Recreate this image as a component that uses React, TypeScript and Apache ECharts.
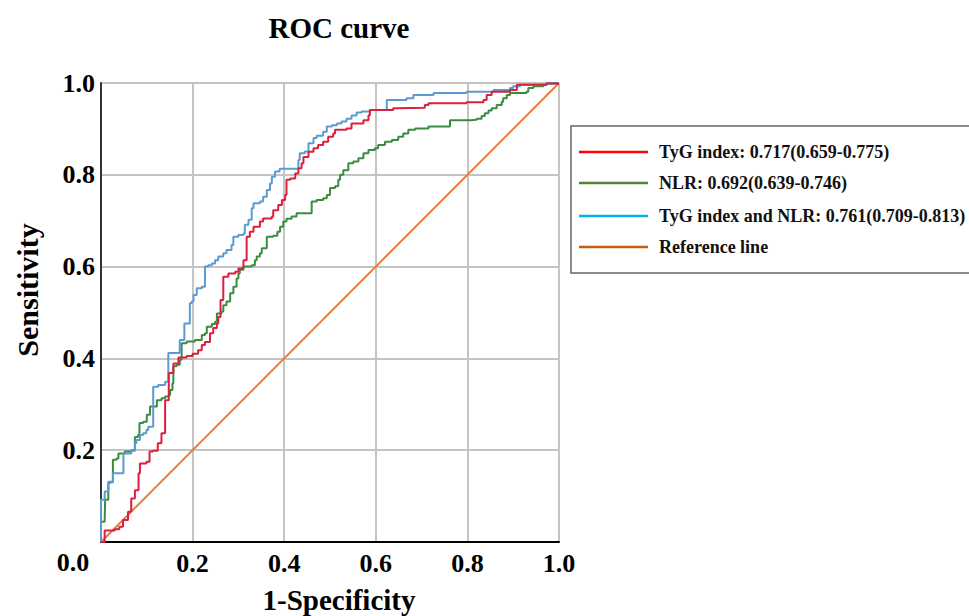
import React, { useEffect, useRef } from "react";
import * as echarts from "echarts";

const xTicks = [0, 0.2, 0.4, 0.6, 0.8, 1.0];

const legendLabels = [
  "TyG index: 0.717(0.659-0.775)",
  "NLR: 0.692(0.639-0.746)",
  "TyG index and NLR: 0.761(0.709-0.813)",
  "Reference line",
];

const tygPoints: number[][] = [
  [0, 0], [0.008, 0.025], [0.03, 0.028], [0.04, 0.033], [0.048, 0.048], [0.059, 0.066],
  [0.066, 0.095], [0.074, 0.113], [0.082, 0.15], [0.085, 0.171], [0.099, 0.175],
  [0.106, 0.197], [0.113, 0.199], [0.124, 0.215], [0.132, 0.237], [0.14, 0.259],
  [0.14, 0.309], [0.148, 0.368], [0.158, 0.389], [0.169, 0.402], [0.187, 0.405],
  [0.2, 0.41], [0.212, 0.418], [0.22, 0.429], [0.227, 0.436], [0.238, 0.455],
  [0.245, 0.466], [0.253, 0.476], [0.256, 0.49], [0.261, 0.505], [0.261, 0.527],
  [0.267, 0.578], [0.278, 0.585], [0.293, 0.589], [0.3, 0.596], [0.311, 0.614],
  [0.318, 0.665], [0.325, 0.676], [0.333, 0.687], [0.347, 0.698], [0.354, 0.705],
  [0.373, 0.709], [0.376, 0.723], [0.387, 0.734], [0.395, 0.745], [0.402, 0.756],
  [0.405, 0.789], [0.413, 0.792], [0.424, 0.803], [0.431, 0.814], [0.438, 0.825],
  [0.442, 0.839], [0.453, 0.85], [0.464, 0.858], [0.474, 0.865], [0.485, 0.872],
  [0.496, 0.883], [0.507, 0.89], [0.511, 0.898], [0.536, 0.901], [0.547, 0.912],
  [0.573, 0.919], [0.584, 0.93], [0.587, 0.941], [0.638, 0.945], [0.646, 0.946],
  [0.707, 0.952], [0.715, 0.956], [0.798, 0.958], [0.835, 0.963], [0.842, 0.974],
  [0.853, 0.981], [0.893, 0.985], [0.908, 0.996], [0.973, 0.999], [1, 1],
];

const nlrPoints: number[][] = [
  [0, 0], [0, 0.044], [0.008, 0.044], [0.009, 0.092], [0.016, 0.092], [0.016, 0.128],
  [0.019, 0.13], [0.026, 0.179], [0.034, 0.182], [0.038, 0.193], [0.052, 0.197],
  [0.067, 0.2], [0.074, 0.208], [0.074, 0.229], [0.081, 0.233], [0.084, 0.259],
  [0.092, 0.262], [0.1, 0.277], [0.107, 0.295], [0.118, 0.295], [0.122, 0.309],
  [0.132, 0.313], [0.14, 0.317], [0.148, 0.32], [0.151, 0.331], [0.156, 0.346],
  [0.158, 0.383], [0.165, 0.386], [0.172, 0.397], [0.176, 0.433], [0.187, 0.437],
  [0.205, 0.44], [0.22, 0.451], [0.227, 0.455], [0.231, 0.469], [0.242, 0.475],
  [0.249, 0.48], [0.253, 0.498], [0.263, 0.502], [0.267, 0.516], [0.274, 0.524],
  [0.282, 0.542], [0.289, 0.556], [0.296, 0.574], [0.3, 0.585], [0.303, 0.593],
  [0.311, 0.6], [0.329, 0.603], [0.336, 0.614], [0.34, 0.622], [0.347, 0.629],
  [0.351, 0.64], [0.362, 0.665], [0.376, 0.667], [0.385, 0.676], [0.391, 0.687],
  [0.398, 0.698], [0.405, 0.704], [0.416, 0.709], [0.427, 0.716], [0.46, 0.72],
  [0.46, 0.742], [0.471, 0.745], [0.485, 0.749], [0.493, 0.756], [0.5, 0.771],
  [0.511, 0.775], [0.518, 0.789], [0.522, 0.8], [0.529, 0.81], [0.54, 0.825],
  [0.551, 0.829], [0.562, 0.836], [0.573, 0.847], [0.584, 0.854], [0.598, 0.858],
  [0.605, 0.865], [0.62, 0.872], [0.635, 0.876], [0.649, 0.883], [0.66, 0.89],
  [0.671, 0.898], [0.686, 0.901], [0.715, 0.905], [0.762, 0.905], [0.762, 0.919],
  [0.806, 0.92], [0.82, 0.922], [0.831, 0.928], [0.838, 0.934], [0.846, 0.94],
  [0.853, 0.945], [0.864, 0.952], [0.875, 0.959], [0.878, 0.967], [0.886, 0.974],
  [0.893, 0.978], [0.929, 0.981], [0.933, 0.989], [0.944, 0.993], [0.966, 0.996],
  [0.973, 0.999], [1, 1],
];

const combinedPoints: number[][] = [
  [0, 0], [0, 0.044], [0, 0.092], [0.008, 0.092], [0.008, 0.11], [0.016, 0.11],
  [0.016, 0.131], [0.026, 0.15], [0.041, 0.15], [0.049, 0.153], [0.049, 0.193],
  [0.066, 0.199], [0.074, 0.215], [0.077, 0.222], [0.085, 0.233], [0.092, 0.237],
  [0.099, 0.244], [0.103, 0.251], [0.114, 0.255], [0.114, 0.338], [0.125, 0.342],
  [0.14, 0.349], [0.147, 0.353], [0.147, 0.412], [0.172, 0.412], [0.172, 0.44],
  [0.18, 0.44], [0.182, 0.476], [0.19, 0.476], [0.194, 0.52], [0.198, 0.524],
  [0.202, 0.538], [0.209, 0.542], [0.209, 0.553], [0.22, 0.556], [0.227, 0.6],
  [0.234, 0.603], [0.242, 0.607], [0.249, 0.614], [0.256, 0.622], [0.267, 0.629],
  [0.274, 0.636], [0.285, 0.647], [0.289, 0.665], [0.3, 0.669], [0.311, 0.672],
  [0.314, 0.691], [0.322, 0.702], [0.329, 0.727], [0.333, 0.738], [0.347, 0.742],
  [0.354, 0.752], [0.362, 0.767], [0.369, 0.781], [0.373, 0.796], [0.38, 0.807],
  [0.39, 0.813], [0.424, 0.813], [0.431, 0.832], [0.434, 0.847], [0.445, 0.851],
  [0.453, 0.869], [0.464, 0.88], [0.471, 0.885], [0.485, 0.894], [0.493, 0.905],
  [0.504, 0.908], [0.515, 0.912], [0.525, 0.916], [0.536, 0.922], [0.547, 0.929],
  [0.558, 0.936], [0.569, 0.938], [0.587, 0.941], [0.624, 0.941], [0.624, 0.963],
  [0.664, 0.963], [0.667, 0.967], [0.682, 0.974], [0.726, 0.978], [0.798, 0.981],
  [0.857, 0.985], [0.893, 0.989], [0.9, 0.993], [0.915, 0.996], [0.973, 1.0], [1, 1],
];

const referencePoints: number[][] = [
  [0, 0],
  [1, 1],
];

const curveColors = ["#dc1f3c", "#3a8c3f", "#5b9bd5", "#ef7a35"];
const legendColors = ["#ff0000", "#548235", "#00b0f0", "#c55a11"];

const FONT = "'Liberation Serif', 'Times New Roman', serif";

export default function App() {
  const ref = useRef<HTMLDivElement>(null);

  useEffect(() => {
    if (!ref.current) return;
    const chart = echarts.init(ref.current, undefined, { renderer: "svg" });

    const legendTop = 126;
    const legendRows = [152, 183, 216, 247];

    const legendGraphics: any[] = [
      {
        type: "rect",
        shape: { x: 571, y: legendTop, width: 420, height: 147 },
        style: { fill: "#fff", stroke: "#666", lineWidth: 1.5 },
      },
    ];
    legendLabels.forEach((label, i) => {
      legendGraphics.push({
        type: "line",
        shape: { x1: 579, y1: legendRows[i], x2: 648, y2: legendRows[i] },
        style: { stroke: legendColors[i], lineWidth: 2.5 },
      });
      legendGraphics.push({
        type: "text",
        x: 659,
        y: legendRows[i],
        style: {
          text: label,
          font: `bold 18px ${FONT}`,
          fill: "#111",
          textVerticalAlign: "middle",
          verticalAlign: "middle",
        },
      });
    });

    const axisLabelStyle = {
      fontFamily: FONT,
      fontWeight: "bold" as const,
      fontSize: 26,
      color: "#000",
    };

    const centered = {
      fill: "#000",
      textAlign: "center",
      textVerticalAlign: "middle",
      align: "center",
      verticalAlign: "middle",
    };

    chart.setOption({
      animation: false,
      backgroundColor: "#fff",
      grid: { left: 101, top: 83, width: 458, height: 459, containLabel: false },
      xAxis: {
        type: "value",
        min: 0,
        max: 1,
        interval: 0.2,
        axisLine: { show: true, lineStyle: { color: "#000", width: 2 } },
        axisTick: { show: false },
        splitLine: { show: true, lineStyle: { color: "#c4c4c4", width: 2 } },
        axisLabel: {
          ...axisLabelStyle,
          margin: 8,
          formatter: (v: number) => (v === 0 ? "" : v.toFixed(1)),
        },
      },
      yAxis: {
        type: "value",
        min: 0,
        max: 1,
        interval: 0.2,
        axisLine: { show: true, lineStyle: { color: "#333", width: 2 } },
        axisTick: { show: false },
        splitLine: { show: true, lineStyle: { color: "#c4c4c4", width: 2 } },
        axisLabel: {
          ...axisLabelStyle,
          margin: 6,
          formatter: (v: number) => (v === 0 ? "" : v.toFixed(1)),
        },
      },
      series: [
        {
          name: legendLabels[3],
          type: "line",
          data: referencePoints,
          showSymbol: false,
          lineStyle: { color: curveColors[3], width: 2 },
          z: 2,
        },
        {
          name: legendLabels[1],
          type: "line",
          data: nlrPoints,
          step: "end",
          showSymbol: false,
          lineStyle: { color: curveColors[1], width: 2 },
          z: 3,
        },
        {
          name: legendLabels[2],
          type: "line",
          data: combinedPoints,
          step: "end",
          showSymbol: false,
          lineStyle: { color: curveColors[2], width: 2 },
          z: 4,
        },
        {
          name: legendLabels[0],
          type: "line",
          data: tygPoints,
          step: "end",
          showSymbol: false,
          lineStyle: { color: curveColors[0], width: 2 },
          z: 5,
        },
      ],
      graphic: [
        {
          type: "text",
          x: 339,
          y: 28,
          style: { ...centered, text: "ROC curve", font: `bold 29px ${FONT}` },
        },
        {
          type: "text",
          x: 73,
          y: 562,
          style: { ...centered, text: xTicks[0].toFixed(1), font: `bold 26px ${FONT}` },
        },
        {
          type: "text",
          x: 339,
          y: 600,
          style: { ...centered, text: "1-Specificity", font: `bold 29px ${FONT}` },
        },
        {
          type: "text",
          x: 27,
          y: 290,
          rotation: Math.PI / 2,
          style: { ...centered, text: "Sensitivity", font: `bold 30px ${FONT}` },
        },
        ...legendGraphics,
      ],
    });

    return () => chart.dispose();
  }, []);

  return (
    <div
      ref={ref}
      style={{ position: "absolute", left: 0, top: 0, width: 969, height: 616 }}
    />
  );
}
